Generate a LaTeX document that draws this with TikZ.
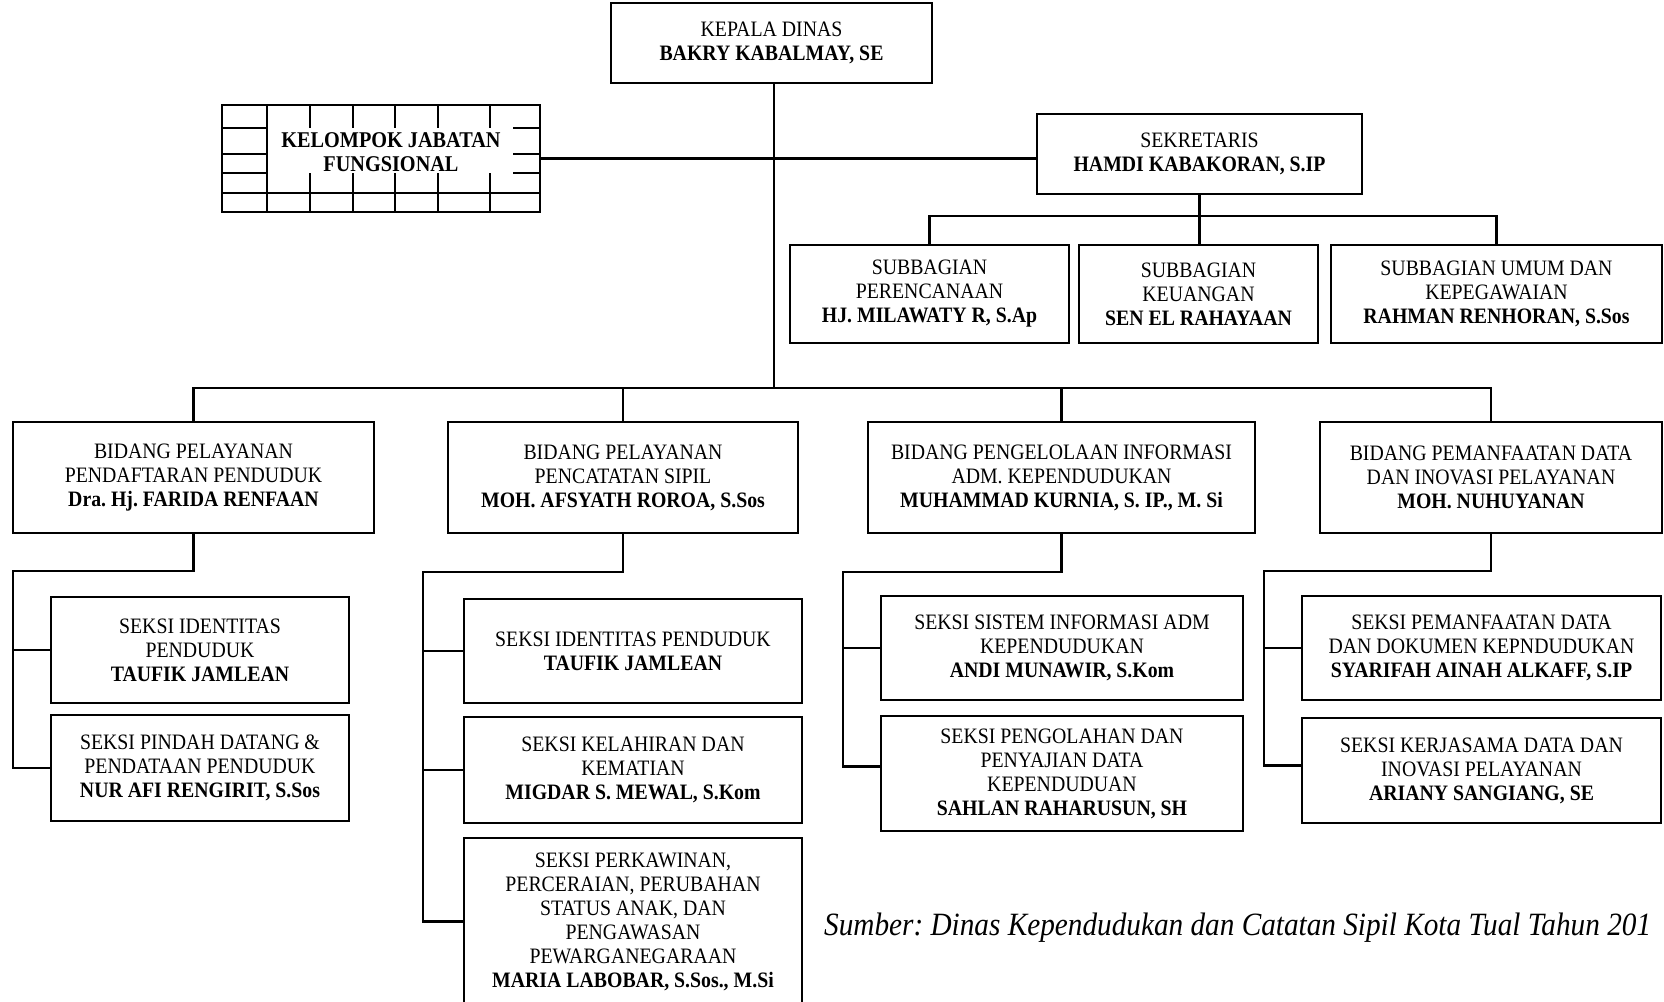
\documentclass[tikz,border=0pt]{standalone}
\usepackage{fontspec}
\setmainfont{Liberation Serif}[FakeStretch=0.9]
\begin{document}
\frenchspacing
\begin{tikzpicture}[x=1pt,y=-1pt,
  box/.style={draw, line width=2.8pt, align=center, inner sep=0pt, font=\fontsize{22}{24}\selectfont},
  conn/.style={line width=2.8pt},
  gridline/.style={line width=2.3pt}]
\useasboundingbox (0,0) rectangle (1664,1001);
\fill[white] (0,0) rectangle (1664,1001);
\clip (0,0) rectangle (1664,1001);

% top
\node[box, minimum width=321pt, minimum height=80pt] (kepala) at (771.5,43) {KEPALA DINAS\\\textbf{BAKRY KABALMAY, SE}};

% kelompok jabatan fungsional (brick box)
\draw[gridline] (222,193) -- (540,193);
\foreach \yy in {128,154,173} {
  \draw[gridline] (222,\yy) -- (267,\yy);
  \draw[gridline] (513,\yy) -- (540,\yy);
}
\draw[gridline] (267,105) -- (267,212);
\foreach \xx in {310,353,395,438,490} {
  \draw[gridline] (\xx,105) -- (\xx,128);
  \draw[gridline] (\xx,173) -- (\xx,212);
}
\node[draw, line width=2.8pt, minimum width=318pt, minimum height=107pt, inner sep=0pt] (kjfbox) at (381,158.5) {};
\node[align=center, inner sep=0pt, font=\bfseries\fontsize{22.5}{24}\selectfont] (kjf) at (391,152.5) {KELOMPOK JABATAN\\FUNGSIONAL};

% sekretariat
\node[box, minimum width=325pt, minimum height=80pt] (sek) at (1199.5,154) {SEKRETARIS\\\textbf{HAMDI KABAKORAN, S.IP}};
\node[box, minimum width=279pt, minimum height=98pt] (sub1) at (929.5,294) {SUBBAGIAN\\PERENCANAAN\\\textbf{HJ. MILAWATY R, S.Ap}};
\node[box, minimum width=239pt, minimum height=98pt] (sub2) at (1198.5,294) {SUBBAGIAN\\KEUANGAN\\\textbf{SEN EL RAHAYAAN}};
\node[box, minimum width=331pt, minimum height=98pt] (sub3) at (1496.5,294) {SUBBAGIAN UMUM DAN\\KEPEGAWAIAN\\\textbf{RAHMAN RENHORAN, S.Sos}};

% bidang
\node[box, minimum width=361pt, minimum height=111pt] (bid1) at (193.5,477.5) {BIDANG PELAYANAN\\PENDAFTARAN PENDUDUK\\\textbf{Dra. Hj. FARIDA RENFAAN}};
\node[box, minimum width=350pt, minimum height=111pt] (bid2) at (623,477.5) {BIDANG PELAYANAN\\PENCATATAN SIPIL\\\textbf{MOH. AFSYATH ROROA, S.Sos}};
\node[box, minimum width=387pt, minimum height=111pt] (bid3) at (1061.5,477.5) {BIDANG PENGELOLAAN INFORMASI\\ADM. KEPENDUDUKAN\\\textbf{MUHAMMAD KURNIA, S. IP., M. Si}};
\node[box, minimum width=342pt, minimum height=111pt] (bid4) at (1491,477.5) {BIDANG PEMANFAATAN DATA\\DAN INOVASI PELAYANAN\\\textbf{MOH. NUHUYANAN}};

% seksi
\node[box, minimum width=298pt, minimum height=106pt] (s1a) at (200,650) {SEKSI IDENTITAS\\PENDUDUK\\\textbf{TAUFIK JAMLEAN}};
\node[box, minimum width=298pt, minimum height=106pt] (s1b) at (200,768) {SEKSI PINDAH DATANG \&\\PENDATAAN PENDUDUK\\\textbf{NUR AFI RENGIRIT, S.Sos}};
\node[box, minimum width=338pt, minimum height=104pt] (s2a) at (633,651) {SEKSI IDENTITAS PENDUDUK\\\textbf{TAUFIK JAMLEAN}};
\node[box, minimum width=338pt, minimum height=106pt] (s2b) at (633,770) {SEKSI KELAHIRAN DAN\\KEMATIAN\\\textbf{MIGDAR S. MEWAL, S.Kom}};
\node[box, minimum width=338pt, minimum height=167pt] (s2c) at (633,921.5) {SEKSI PERKAWINAN,\\PERCERAIAN, PERUBAHAN\\STATUS ANAK, DAN\\PENGAWASAN\\PEWARGANEGARAAN\\\textbf{MARIA LABOBAR, S.Sos., M.Si}};
\node[box, minimum width=362pt, minimum height=104pt] (s3a) at (1062,648) {SEKSI SISTEM INFORMASI ADM\\KEPENDUDUKAN\\\textbf{ANDI MUNAWIR, S.Kom}};
\node[box, minimum width=362pt, minimum height=115pt] (s3b) at (1062,773.5) {SEKSI PENGOLAHAN DAN\\PENYAJIAN DATA\\KEPENDUDUAN\\\textbf{SAHLAN RAHARUSUN, SH}};
\node[box, minimum width=359pt, minimum height=104pt] (s4a) at (1481.5,648) {SEKSI PEMANFAATAN DATA\\DAN DOKUMEN KEPNDUDUKAN\\\textbf{SYARIFAH AINAH ALKAFF, S.IP}};
\node[box, minimum width=359pt, minimum height=105pt] (s4b) at (1481.5,770.5) {SEKSI KERJASAMA DATA DAN\\INOVASI PELAYANAN\\\textbf{ARIANY SANGIANG, SE}};

% source
\node[anchor=base west, inner sep=0pt, font=\itshape\fontsize{32.5}{36}\selectfont] (src) at (824,935) {Sumber: Dinas Kependudukan dan Catatan Sipil Kota Tual Tahun 201};

% connectors
\coordinate (mainbus) at (774,388);
\coordinate (sekbus) at (1199,216);
\coordinate (v1) at (13,571);
\coordinate (v2) at (423,572);
\coordinate (v3) at (843,572);
\coordinate (v4) at (1264,571);
\coordinate (b3) at ([yshift=7pt]s3b.west);
\coordinate (b4) at ([yshift=5pt]s4b.west);

\draw[conn] (kepala.south -| mainbus) -- (mainbus);
\draw[conn] (kjfbox.east) -- (kjfbox.east -| sek.west);
\draw[conn] (bid1.north) -- (bid1.north |- mainbus) -- (bid4.north |- mainbus) -- (bid4.north);
\draw[conn] (bid2.north) -- (bid2.north |- mainbus);
\draw[conn] (bid3.north) -- (bid3.north |- mainbus);

\draw[conn] (sek.south) -- (sek.south |- sub2.north);
\draw[conn] (sub1.north) -- (sub1.north |- sekbus) -- (sub3.north |- sekbus) -- (sub3.north);

\draw[conn] (bid1.south) |- (v1) -- (v1 |- s1b.west) -- (s1b.west);
\draw[conn] (v1 |- s1a.west) -- (s1a.west);

\draw[conn] (bid2.south) |- (v2) -- (v2 |- s2c.west) -- (s2c.west);
\draw[conn] (v2 |- s2a.west) -- (s2a.west);
\draw[conn] (v2 |- s2b.west) -- (s2b.west);

\draw[conn] (bid3.south) |- (v3) -- (v3 |- b3) -- (b3);
\draw[conn] (v3 |- s3a.west) -- (s3a.west);

\draw[conn] (bid4.south) |- (v4) -- (v4 |- b4) -- (b4);
\draw[conn] (v4 |- s4a.west) -- (s4a.west);
\end{tikzpicture}
\end{document}
